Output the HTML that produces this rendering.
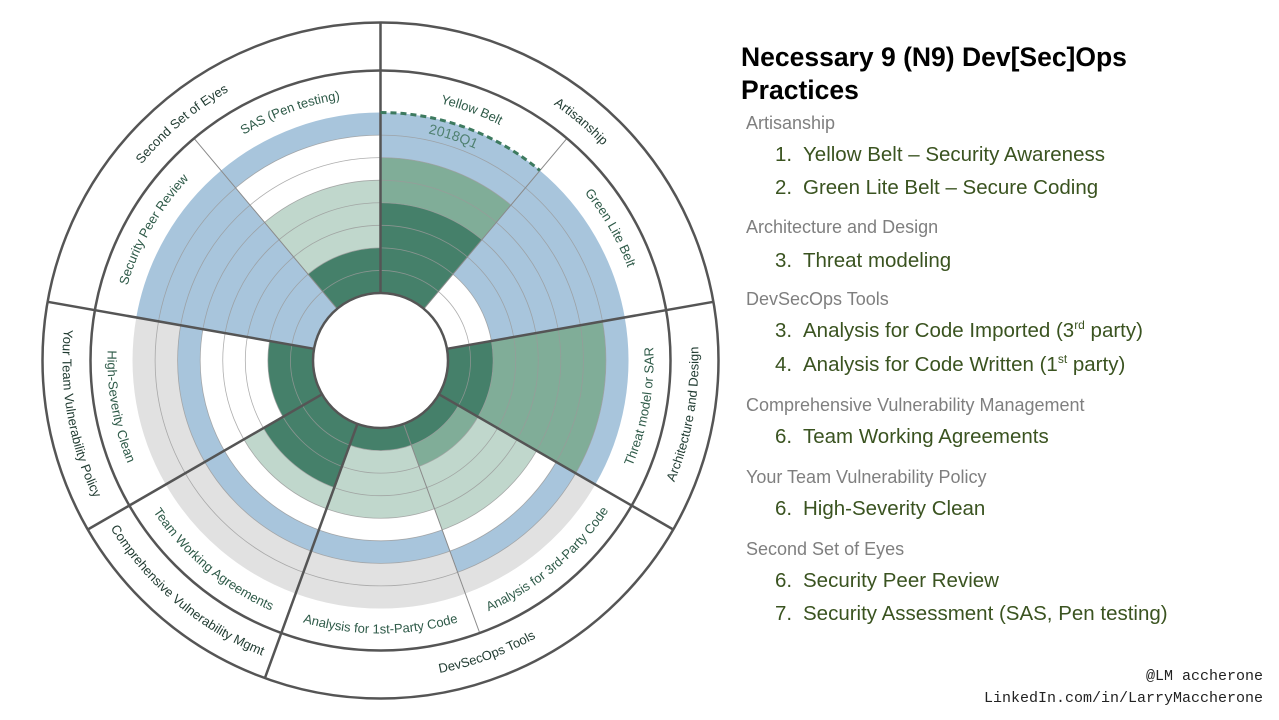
<!DOCTYPE html>
<html><head><meta charset="utf-8"><style>
html,body{margin:0;padding:0;background:#fff;}
body{width:1279px;height:720px;position:relative;overflow:hidden;font-family:"Liberation Sans",sans-serif;}
.t{position:absolute;white-space:nowrap;}
.title{left:741px;font-weight:bold;font-size:26.5px;color:#000;}
.cat{left:746px;font-size:18px;color:#7f7f7f;}
.it{left:775px;font-size:20.5px;color:#3a5320;}
.it span{display:inline-block;width:28px;}
.cr{right:16px;font-family:"Liberation Mono",monospace;font-size:15px;color:#222;}
</style></head><body>
<svg width="760" height="720" style="position:absolute;left:0;top:0" xmlns="http://www.w3.org/2000/svg">
<g fill="none">
<!-- 0-40 Yellow -->
<path d="M380.5,247.9 A112.6,112.6 0 0 1 452.9,274.2" stroke="#45806a" stroke-width="90.25"/>
<path d="M380.5,180.2 A180.3,180.3 0 0 1 496.4,222.4" stroke="#80ad98" stroke-width="45.1"/>
<path d="M380.5,135.05 A225.45,225.45 0 0 1 525.4,187.8" stroke="#a8c5dc" stroke-width="45.1"/>
<!-- 40-80 Green Lite -->
<path d="M496.4,222.4 A180.3,180.3 0 0 1 558.1,329.2" stroke="#a8c5dc" stroke-width="135.4"/>
<!-- 80-120 Threat -->
<path d="M469.2,344.9 A90.06,90.06 0 0 1 458.5,405.5" stroke="#45806a" stroke-width="45.1"/>
<path d="M546.9,331.2 A169,169 0 0 1 526.9,445" stroke="#80ad98" stroke-width="112.8"/>
<path d="M613.6,319.4 A236.7,236.7 0 0 1 585.5,478.85" stroke="#a8c5dc" stroke-width="22.6"/>
<!-- 120-160 3rd -->
<path d="M448.7,399.9 A78.8,78.8 0 0 1 407.4,434.5" stroke="#45806a" stroke-width="22.6"/>
<path d="M468.2,411.15 A101.3,101.3 0 0 1 415.1,455.7" stroke="#80ad98" stroke-width="22.6"/>
<path d="M507.4,433.75 A146.5,146.5 0 0 1 430.6,498.2" stroke="#c0d7cc" stroke-width="67.7"/>
<path d="M566,467.6 A214.2,214.2 0 0 1 453.8,561.8" stroke="#a8c5dc" stroke-width="22.6"/>
<path d="M585.5,478.85 A236.7,236.7 0 0 1 461.5,582.9" stroke="#e1e1e1" stroke-width="22.6"/>
<!-- 160-200 1st -->
<path d="M407.4,434.5 A78.8,78.8 0 0 1 353.6,434.5" stroke="#45806a" stroke-width="22.6"/>
<path d="M422.9,476.9 A123.9,123.9 0 0 1 338.1,476.9" stroke="#c0d7cc" stroke-width="67.7"/>
<path d="M446,540.5 A191.6,191.6 0 0 1 315,540.5" stroke="#a8c5dc" stroke-width="22.6"/>
<path d="M457.6,572.4 A225.45,225.45 0 0 1 303.4,572.4" stroke="#e1e1e1" stroke-width="45.1"/>
<!-- 200-240 Team -->
<path d="M345.9,455.7 A101.3,101.3 0 0 1 292.8,411.15" stroke="#45806a" stroke-width="67.7"/>
<path d="M330.4,498.2 A146.5,146.5 0 0 1 253.6,433.75" stroke="#c0d7cc" stroke-width="22.6"/>
<path d="M315,540.5 A191.6,191.6 0 0 1 214.6,456.3" stroke="#a8c5dc" stroke-width="22.6"/>
<path d="M303.4,572.4 A225.45,225.45 0 0 1 185.3,473.2" stroke="#e1e1e1" stroke-width="45.1"/>
<!-- 240-280 HighSev -->
<path d="M302.5,405.5 A90.06,90.06 0 0 1 291.8,344.9" stroke="#45806a" stroke-width="45.1"/>
<path d="M214.6,456.3 A191.6,191.6 0 0 1 191.8,327.2" stroke="#a8c5dc" stroke-width="22.6"/>
<path d="M185.3,473.2 A225.45,225.45 0 0 1 158.5,321.4" stroke="#e1e1e1" stroke-width="45.1"/>
<!-- 280-320 Peer -->
<path d="M225.15,333.1 A157.75,157.75 0 0 1 279.1,239.7" stroke="#a8c5dc" stroke-width="180.5"/>
<!-- 320-360 SAS -->
<path d="M322.6,291.5 A90.06,90.06 0 0 1 380.5,270.44" stroke="#45806a" stroke-width="45.1"/>
<path d="M286.3,248.3 A146.5,146.5 0 0 1 380.5,214" stroke="#c0d7cc" stroke-width="67.7"/>
<path d="M228.3,179.2 A236.7,236.7 0 0 1 380.5,123.8" stroke="#a8c5dc" stroke-width="22.6"/>
</g>
<g fill="none" stroke="#9a9a9a" stroke-width="0.8" opacity="0.8">
<circle cx="380.5" cy="360.5" r="90.06"/><circle cx="380.5" cy="360.5" r="112.6"/><circle cx="380.5" cy="360.5" r="135.2"/><circle cx="380.5" cy="360.5" r="157.75"/><circle cx="380.5" cy="360.5" r="180.3"/><circle cx="380.5" cy="360.5" r="202.9"/><circle cx="380.5" cy="360.5" r="225.4"/>
</g>
<g stroke="#8a8a8a" stroke-width="1">
<line x1="423.9" y1="308.8" x2="566.9" y2="138.4"/>
<line x1="403.6" y1="423.9" x2="479.7" y2="633"/>
<line x1="337.1" y1="308.8" x2="194.1" y2="138.4"/>
</g>
<g fill="none" stroke="#555" stroke-width="2.5">
<circle cx="380.5" cy="360.5" r="67.5"/>
<circle cx="380.5" cy="360.5" r="290"/>
<circle cx="380.5" cy="360.5" r="338"/>
<line x1="380.5" y1="293" x2="380.5" y2="22.5"/>
<line x1="447" y1="348.8" x2="713.4" y2="301.8"/>
<line x1="439" y1="394.3" x2="673.2" y2="529.5"/>
<line x1="357.4" y1="423.9" x2="264.9" y2="678.1"/>
<line x1="322" y1="394.3" x2="87.8" y2="529.5"/>
<line x1="314" y1="348.8" x2="47.6" y2="301.8"/>
</g>
<path d="M380.5,112.5 A248,248 0 0 1 539.9,170.5" fill="none" stroke="#3d7a5f" stroke-width="3" stroke-dasharray="6 4"/>
<defs>
<path id="p1" d="M380.5,96.5 A264,264 0 0 1 550.2,158.3"/>
<path id="p2" d="M550.2,158.3 A264,264 0 0 1 640.5,314.7"/>
<path id="p3" d="M616.9,497 A273,273 0 0 0 649.4,313.1"/>
<path id="p4" d="M473.9,617 A273,273 0 0 0 616.9,497"/>
<path id="p5" d="M287.1,617 A273,273 0 0 0 473.9,617"/>
<path id="p6" d="M144.1,497 A273,273 0 0 0 287.1,617"/>
<path id="p7" d="M111.6,313.1 A273,273 0 0 0 144.1,497"/>
<path id="p8" d="M120.5,314.7 A264,264 0 0 1 210.8,158.3"/>
<path id="p9" d="M210.8,158.3 A264,264 0 0 1 380.5,96.5"/>
<path id="pq" d="M380.5,128.5 A232,232 0 0 1 529.6,182.8"/>
<path id="c1" d="M380.5,51.5 A309,309 0 0 1 684.8,306.9"/>
<path id="c2" d="M655.9,519.5 A318,318 0 0 0 693.7,305.3"/>
<path id="c3" d="M271.7,659.3 A318,318 0 0 0 655.9,519.5"/>
<path id="c4" d="M105.1,519.5 A318,318 0 0 0 271.7,659.3"/>
<path id="c5" d="M67.3,305.3 A318,318 0 0 0 105.1,519.5"/>
<path id="c6" d="M76.2,306.9 A309,309 0 0 1 380.5,51.5"/>
</defs>
<g font-family="Liberation Sans, sans-serif" font-size="13" fill="#2e5a48" text-anchor="middle">
<text><textPath href="#p1" startOffset="50%">Yellow Belt</textPath></text>
<text><textPath href="#p2" startOffset="50%">Green Lite Belt</textPath></text>
<text><textPath href="#p3" startOffset="50%">Threat model or SAR</textPath></text>
<text><textPath href="#p4" startOffset="50%">Analysis for 3rd-Party Code</textPath></text>
<text><textPath href="#p5" startOffset="50%">Analysis for 1st-Party Code</textPath></text>
<text><textPath href="#p6" startOffset="50%">Team Working Agreements</textPath></text>
<text><textPath href="#p7" startOffset="50%">High-Severity Clean</textPath></text>
<text><textPath href="#p8" startOffset="50%">Security Peer Review</textPath></text>
<text><textPath href="#p9" startOffset="50%">SAS (Pen testing)</textPath></text>
<text fill="#4f8070" font-size="14"><textPath href="#pq" startOffset="45%">2018Q1</textPath></text>
</g>
<g font-family="Liberation Sans, sans-serif" font-size="13" fill="#1f3a30" text-anchor="middle">
<text><textPath href="#c1" startOffset="50%">Artisanship</textPath></text>
<text><textPath href="#c2" startOffset="50%">Architecture and Design</textPath></text>
<text><textPath href="#c3" startOffset="50%">DevSecOps Tools</textPath></text>
<text><textPath href="#c4" startOffset="50%">Comprehensive Vulnerability Mgmt</textPath></text>
<text><textPath href="#c5" startOffset="50%">Your Team Vulnerability Policy</textPath></text>
<text><textPath href="#c6" startOffset="50%">Second Set of Eyes</textPath></text>
</g>
</svg>

<div class="t title" style="top:42px;">Necessary 9 (N9) Dev[Sec]Ops</div>
<div class="t title" style="top:75px;">Practices</div>
<div class="t cat" style="top:113px;">Artisanship</div>
<div class="t it" style="top:143px;"><span>1.</span>Yellow Belt – Security Awareness</div>
<div class="t it" style="top:176px;"><span>2.</span>Green Lite Belt – Secure Coding</div>
<div class="t cat" style="top:217px;">Architecture and Design</div>
<div class="t it" style="top:249px;"><span>3.</span>Threat modeling</div>
<div class="t cat" style="top:289px;">DevSecOps Tools</div>
<div class="t it" style="top:319px;"><span>3.</span>Analysis for Code Imported (3<sup style="font-size:12px;line-height:0">rd</sup> party)</div>
<div class="t it" style="top:353px;"><span>4.</span>Analysis for Code Written (1<sup style="font-size:12px;line-height:0">st</sup> party)</div>
<div class="t cat" style="top:395px;">Comprehensive Vulnerability Management</div>
<div class="t it" style="top:425px;"><span>6.</span>Team Working Agreements</div>
<div class="t cat" style="top:467px;">Your Team Vulnerability Policy</div>
<div class="t it" style="top:497px;"><span>6.</span>High-Severity Clean</div>
<div class="t cat" style="top:539px;">Second Set of Eyes</div>
<div class="t it" style="top:569px;"><span>6.</span>Security Peer Review</div>
<div class="t it" style="top:602px;"><span>7.</span>Security Assessment (SAS, Pen testing)</div>
<div class="t cr" style="top:668px;">@LM accherone</div>
<div class="t cr" style="top:690px;">LinkedIn.com/in/LarryMaccherone</div>
</body></html>
